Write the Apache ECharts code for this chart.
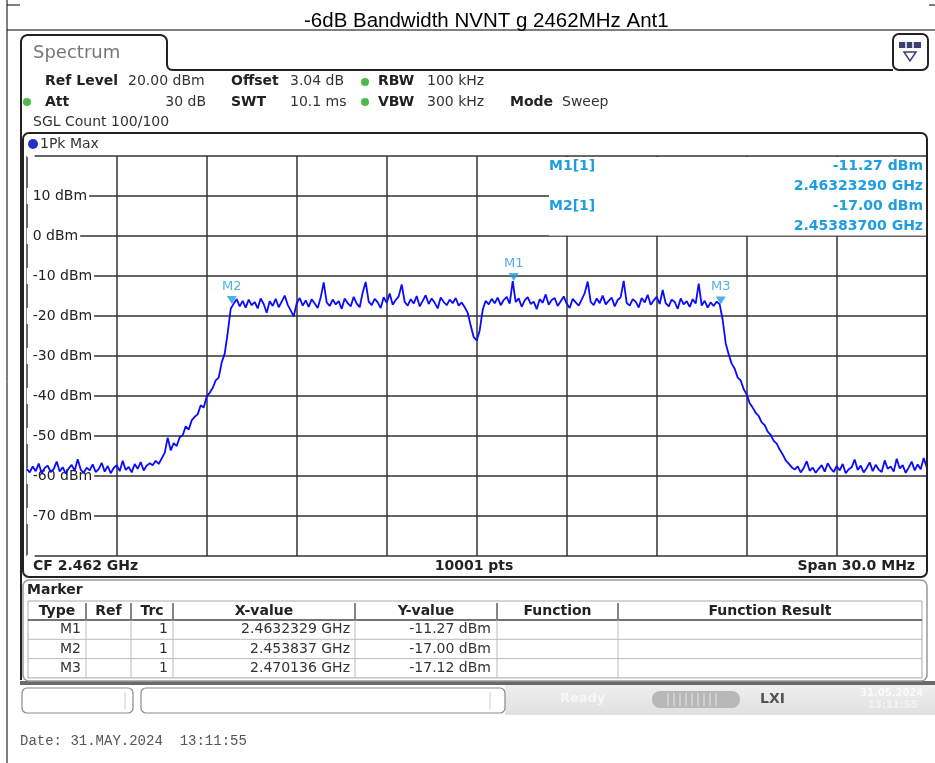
<!DOCTYPE html>
<html>
<head>
<meta charset="utf-8">
<script src="https://cdn.jsdelivr.net/npm/echarts@6.0.0/dist/echarts.min.js"></script>
<style>
html, body { margin: 0; padding: 0; background: #fff; }
#main { width: 935px; height: 763px; }
</style>
</head>
<body>
<div id="main"></div>
<script>
// sweep: 2.447 .. 2.477 GHz, one value every 0.1 MHz
var startGHz = 2.447;
var stepMHz = 0.1;

var floorLeft = [-58.2, -59.1, -57.6, -58.8, -56.9, -59.3, -58.0, -57.4, -59.0, -58.3,
    -56.4, -58.9, -57.8, -59.4, -58.1, -57.2, -58.7, -55.8, -58.4, -59.2,
    -57.9, -58.6, -57.1, -59.0, -58.3, -56.7, -58.9, -57.5, -59.3, -58.0,
    -57.3, -58.8, -56.2, -58.5, -57.7, -59.1, -57.0, -58.2, -56.5, -58.6,
    -57.4, -56.8];
var skirtLeft = [-57.3, -56.2, -57.0, -55.6, -54.2, -50.4, -53.6, -51.8, -52.5, -50.3,
    -49.8, -47.6, -48.4, -46.1, -45.2, -44.6, -42.3, -42.9, -40.1, -39.2,
    -38.0, -36.1, -35.4, -31.6, -29.4, -24.2, -18.2];
var bandLow = [-16.9, -15.8, -17.6, -16.2, -17.9, -15.9, -17.3, -16.5, -18.1, -15.6,
    -17.0, -19.2, -16.3, -17.5, -15.7, -17.8, -16.4, -14.9, -17.2, -18.6,
    -20.1, -16.8, -15.5, -17.4, -16.1, -17.7, -15.8, -16.9, -18.0, -15.4,
    -11.6, -16.6, -17.5, -15.9, -17.1, -16.3, -18.2, -15.6, -16.8, -17.6,
    -15.2, -16.9, -17.8, -14.1, -11.5, -16.4, -17.3, -15.7, -16.6, -18.0,
    -15.3, -16.7, -14.4, -17.2, -16.0, -15.1, -12.1, -16.5, -17.4, -15.8,
    -16.9, -15.0, -17.6, -16.2, -14.8, -17.0, -15.6, -16.7, -18.1, -15.4,
    -16.5, -17.3, -15.9, -16.8, -15.5, -17.4, -16.6, -17.8];
var notch = [-19.2, -22.4, -25.3, -26.1, -23.6, -18.4];
var bandHigh = [-16.2, -17.1, -15.7, -16.8, -15.4, -17.3, -16.0, -15.2, -16.9, -11.3,
    -16.5, -15.6, -17.7, -16.1, -15.3, -17.0, -16.4, -18.3, -15.8, -16.7,
    -14.6, -17.2, -16.0, -15.5, -17.5, -16.3, -15.1, -16.9, -18.0, -15.7,
    -16.6, -17.4, -15.9, -14.3, -11.4, -16.5, -17.3, -15.6, -16.8, -14.9,
    -17.1, -16.2, -15.4, -17.6, -16.0, -15.3, -11.2, -16.7, -17.4, -15.8,
    -16.4, -17.9, -15.5, -16.6, -14.7, -17.2, -16.1, -15.2, -17.0, -13.5,
    -16.8, -17.6, -15.9, -16.5, -18.2, -15.6, -17.1, -16.3, -17.7, -15.8,
    -16.9, -11.9, -17.4, -16.2, -17.9, -16.6, -17.5, -16.4, -17.1];
var skirtRight = [-21.0, -26.8, -29.6, -31.9, -33.2, -35.4, -36.1, -38.3, -39.6, -41.8,
    -42.9, -44.2, -45.0, -46.6, -47.3, -48.9, -49.7, -51.2, -51.9, -53.4,
    -54.6, -56.1, -56.9, -57.8];
var floorRight = [-58.4, -57.6, -59.1, -58.0, -56.3, -58.7, -57.9, -59.2, -58.2, -57.3,
    -58.9, -56.8, -58.1, -59.0, -57.5, -58.6, -57.0, -59.3, -58.3, -57.8,
    -55.9, -58.5, -57.4, -59.1, -58.0, -56.6, -58.8, -57.2, -58.4, -59.0,
    -56.1, -58.2, -57.6, -58.9, -55.7, -58.1, -57.3, -59.2, -57.9, -56.4,
    -58.6, -57.1, -58.3, -55.5, -57.8];

// markers
var markerNames = ['M1', 'M2', 'M3'];
var markerGHz = [2.4632329, 2.453837, 2.470136];
var markerDbm = [-11.27, -17.00, -17.12];
var markerTrc = [1, 1, 1];

var tableHeads = ['Type', 'Ref', 'Trc', 'X-value', 'Y-value', 'Function', 'Function Result'];
var tableCols = [28, 86, 131, 173, 355, 497, 618, 922];

var trace = floorLeft.concat(skirtLeft, bandLow, notch, bandHigh, skirtRight, floorRight);
var traceData = trace.map(function (v, i) { return [i * stepMHz, v]; });
var markerData = markerNames.map(function (n, i) {
    return { name: n, value: [(markerGHz[i] - startGHz) * 1000, markerDbm[i]] };
});

var F = 'DejaVu Sans';
var BLUE = '#1e9ee0';

function txt(x, y, s, o) {
    o = o || {};
    return {
        type: 'text', z: 20,
        style: {
            x: x, y: y, text: s, fontFamily: o.family || F, fontSize: o.size || 14,
            fontWeight: o.bold ? 'bold' : 'normal', fill: o.color || '#222',
            textAlign: o.align || 'left', textVerticalAlign: 'middle'
        }
    };
}
function ln(x1, y1, x2, y2, color, w, z) {
    return { type: 'line', z: z || 20, shape: { x1: x1, y1: y1, x2: x2, y2: y2 }, style: { stroke: color, lineWidth: w || 1 } };
}
function box(x, y, w, h, fill, stroke, lw, r, z) {
    return {
        type: 'rect', z: z || 15, shape: { x: x, y: y, width: w, height: h, r: r || 0 },
        style: { fill: fill || 'none', stroke: stroke || 'none', lineWidth: lw || 1 }
    };
}
function dot(x, y, color, r) {
    return { type: 'circle', z: 20, shape: { cx: x, cy: y, r: r || 4 }, style: { fill: color } };
}

var g = [];
// page frame
g.push(ln(7, 0, 7, 763, '#000', 1));
g.push(ln(7, 30, 935, 30, '#000', 1));
g.push(ln(7, 5, 20, 5, '#000', 1));
g.push(ln(929, 5, 935, 5, '#000', 1));

// tab + window
g.push({
    type: 'polyline', z: 15,
    shape: { points: [[21, 680], [21, 41], [22, 38], [24, 36], [27, 35], [161, 35], [164, 36], [166, 38], [167, 41],
        [167, 65], [168, 68], [170, 69.5], [173, 70], [893, 70]] },
    style: { fill: 'none', stroke: '#222', lineWidth: 2 }
});
g.push(txt(33, 53, 'Spectrum', { size: 18, color: '#777' }));
g.push(box(893, 34, 35, 36, '#fff', '#222', 2, 6));
g.push(box(899, 42, 22, 6, '#3b3f6e', null, 1, 0, 16));
g.push(ln(906, 42, 906, 48, '#fff', 1.5));
g.push(ln(913, 42, 913, 48, '#fff', 1.5));
g.push({ type: 'polygon', z: 20, shape: { points: [[904, 52], [916, 52], [910, 61]] }, style: { fill: 'none', stroke: '#3b3f6e', lineWidth: 1.5 } });

// settings
g.push(txt(45, 81, 'Ref Level', { bold: true }));
g.push(txt(128, 81, '20.00 dBm', { color: '#333' }));
g.push(txt(231, 81, 'Offset', { bold: true }));
g.push(txt(290, 81, '3.04 dB', { color: '#333' }));
g.push(dot(365, 82, '#4db848'));
g.push(txt(378, 81, 'RBW', { bold: true }));
g.push(txt(427, 81, '100 kHz', { color: '#333' }));
g.push(dot(27, 102, '#4db848'));
g.push(txt(45, 102, 'Att', { bold: true }));
g.push(txt(206, 102, '30 dB', { color: '#333', align: 'right' }));
g.push(txt(231, 102, 'SWT', { bold: true }));
g.push(txt(290, 102, '10.1 ms', { color: '#333' }));
g.push(dot(365, 102, '#4db848'));
g.push(txt(378, 102, 'VBW', { bold: true }));
g.push(txt(427, 102, '300 kHz', { color: '#333' }));
g.push(txt(510, 102, 'Mode', { bold: true }));
g.push(txt(562, 102, 'Sweep', { color: '#333' }));
g.push(txt(33, 122, 'SGL Count 100/100', { color: '#333' }));

// plot panel
g.push(box(23, 133, 904, 444, 'none', '#222', 2, 6));
g.push(dot(33, 144, '#2430c8', 5));
g.push(txt(40, 144, '1Pk Max', { color: '#333' }));
g.push(txt(33, 566, 'CF 2.462 GHz', { bold: true }));
g.push(txt(474, 566, '10001 pts', { bold: true, align: 'center' }));
g.push(txt(915, 566, 'Span 30.0 MHz', { bold: true, align: 'right' }));

// marker readout
g.push(box(549, 157, 377, 78.5, '#fff', null, 1, 0, 5));
for (var k = 0; k < 2; k++) {
    var yy = 166 + k * 40;
    g.push(txt(549, yy, markerNames[k] + '[1]', { bold: true, color: BLUE }));
    g.push(txt(923, yy, markerDbm[k].toFixed(2) + ' dBm', { bold: true, color: BLUE, align: 'right' }));
    g.push(txt(923, yy + 20, markerGHz[k].toFixed(8) + ' GHz', { bold: true, color: BLUE, align: 'right' }));
}

// marker table
g.push(box(23, 580, 904, 101, 'none', '#999', 1.5, 6));
g.push(txt(27, 590, 'Marker', { bold: true }));
var top0 = 601, headH = 19, rowH = 19.3;
var tBottom = top0 + headH + rowH * markerNames.length;
g.push(box(28, top0, 894, tBottom - top0, 'none', '#aaa', 1));
g.push(ln(28, top0 + headH, 922, top0 + headH, '#444', 1.5));
for (var c = 1; c < tableCols.length - 1; c++) {
    g.push(ln(tableCols[c], top0 + 2, tableCols[c], top0 + headH - 1, '#333', 1.2));
    g.push(ln(tableCols[c], top0 + headH, tableCols[c], tBottom, '#bbb', 1));
}
tableHeads.forEach(function (h, c) {
    g.push(txt((tableCols[c] + tableCols[c + 1]) / 2, top0 + headH / 2 + 1, h, { bold: true, align: 'center' }));
});
markerNames.forEach(function (n, r) {
    var y = top0 + headH + rowH * r + rowH / 2;
    if (r > 0) g.push(ln(28, top0 + headH + rowH * r, 922, top0 + headH + rowH * r, '#bbb', 1));
    g.push(txt(tableCols[1] - 5, y, n, { align: 'right', color: '#333' }));
    g.push(txt(tableCols[3] - 5, y, String(markerTrc[r]), { align: 'right', color: '#333' }));
    g.push(txt(tableCols[4] - 5, y, String(markerGHz[r]) + ' GHz', { align: 'right', color: '#333' }));
    g.push(txt(tableCols[5] - 6, y, markerDbm[r].toFixed(2) + ' dBm', { align: 'right', color: '#333' }));
});

// status bar
g.push(box(20, 681, 915, 4, '#6a6a6a', null, 1, 0, 14));
g.push(box(505, 685, 430, 30, new echarts.graphic.LinearGradient(0, 0, 0, 1, [
    { offset: 0, color: '#efefef' }, { offset: 1, color: '#e0e0e0' }]), null, 1, 0, 14));
g.push(box(22, 688, 111, 25, '#fff', '#8a8a8a', 1.2, 5));
g.push(ln(125, 692, 125, 709, '#ccc', 1));
g.push(box(141, 688, 364, 25, '#fff', '#8a8a8a', 1.2, 5));
g.push(ln(490, 692, 490, 709, '#ccc', 1));
g.push(txt(560, 699, 'Ready', { size: 13, color: '#f7f7f7', bold: true }));
g.push(box(652, 691, 88, 17, '#b8b8b8', null, 1, 8, 16));
for (var s = 0; s < 9; s++) g.push(ln(668 + s * 6, 693, 668 + s * 6, 706, '#e6e6e6', 1));
g.push(txt(760, 699, 'LXI', { size: 14, bold: true, color: '#555' }));
g.push(txt(860, 693, '31.05.2024', { size: 10, bold: true, color: '#fafafa' }));
g.push(txt(868, 705, '13:11:55', { size: 10, bold: true, color: '#f2f2f2' }));

// footer
g.push(txt(20, 741, 'Date: 31.MAY.2024  13:11:55', { family: 'Liberation Mono', size: 14, color: '#555' }));

var myChart = echarts.init(document.getElementById('main'));
myChart.setOption({
    animation: false,
    backgroundColor: '#fff',
    title: {
        text: '-6dB Bandwidth NVNT g 2462MHz Ant1',
        left: 299, top: 6,
        textStyle: { fontFamily: 'Liberation Sans', fontSize: 20.5, fontWeight: 'normal', color: '#000' }
    },
    grid: { left: 26.7, top: 156, width: 900, height: 400 },
    xAxis: {
        type: 'value', min: 0, max: 30, interval: 3,
        axisLine: { show: false }, axisTick: { show: false }, axisLabel: { show: false },
        splitLine: { show: true, lineStyle: { color: '#333', width: 1.5 } }
    },
    yAxis: {
        type: 'value', min: -80, max: 20, interval: 10,
        axisLine: { show: false }, axisTick: { show: false },
        axisLabel: {
            inside: true, margin: 0, color: '#222', fontFamily: F, fontSize: 14,
            backgroundColor: '#fff', padding: [1, 2, 1, 6],
            formatter: function (v) { return (v === 20 || v === -80) ? '' : v + ' dBm'; }
        },
        splitLine: { show: true, lineStyle: { color: '#333', width: 1.5 } }
    },
    series: [{
        type: 'line', data: traceData, symbol: 'none', z: 3,
        lineStyle: { color: '#0a0aff', width: 1.8 }
    }, {
        type: 'scatter', data: markerData, z: 4,
        symbol: 'triangle', symbolRotate: 180, symbolSize: [10, 8], symbolOffset: [0, -4],
        itemStyle: { color: BLUE },
        label: { show: true, position: 'top', distance: 3, formatter: '{b}', color: BLUE, fontFamily: F, fontSize: 13 }
    }],
    graphic: g
});
</script>
</body>
</html>
